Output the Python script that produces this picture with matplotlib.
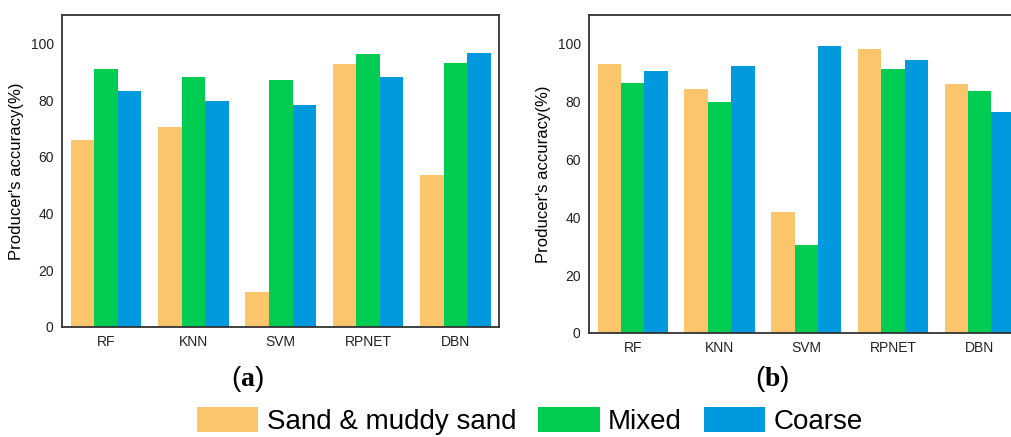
import numpy as np
import matplotlib.pyplot as plt
from matplotlib.patches import Patch

plt.rcParams['font.family'] = ['Liberation Sans', 'DejaVu Sans']
plt.rcParams['mathtext.fontset'] = 'custom'
plt.rcParams['mathtext.rm'] = 'Liberation Serif'
plt.rcParams['mathtext.bf'] = 'Liberation Serif:bold'

methods = ["RF", "KNN", "SVM", "RPNET", "DBN"]
classes = ["Sand & muddy sand", "Mixed", "Coarse"]
colors = ["#FAC56B", "#00CC52", "#0099DD"]

# producer's accuracy (%) per class, panel (a)
sand_a = [65.8, 70.4, 12.2, 92.7, 53.5]
mixed_a = [91.1, 88.1, 87.0, 96.4, 93.0]
coarse_a = [83.1, 79.6, 78.1, 88.0, 96.6]

# panel (b)
sand_b = [93.0, 84.5, 41.8, 98.1, 86.3]
mixed_b = [86.6, 79.9, 30.4, 91.2, 83.8]
coarse_b = [90.7, 92.3, 99.3, 94.5, 76.6]

W, H = 1011, 437
fig = plt.figure(figsize=(W / 100, H / 100), dpi=100)


def draw_panel(rect, series, tag, tag_x):
    ax = fig.add_axes(rect)
    x = np.arange(len(methods))
    bw = 0.27
    for i, (vals, c) in enumerate(zip(series, colors)):
        ax.bar(x + (i - 1) * bw, vals, width=bw, color=c, linewidth=0)
    ax.set_xlim(-0.505, 4.5)
    ax.set_ylim(0, 110)
    ax.set_yticks(range(0, 101, 20))
    ax.set_xticks(x)
    ax.set_xticklabels(methods)
    ax.tick_params(length=0, labelsize=10, colors="#222222", pad=6)
    ax.set_ylabel("Producer's accuracy(%)", fontsize=12, labelpad=5)
    for s in ax.spines.values():
        s.set_color("#333333")
        s.set_linewidth(1.3)
    fig.text(tag_x / W, 1 - 379 / H, r"($\mathbf{" + tag + r"}$)",
             ha="center", va="center", fontsize=20)
    return ax


draw_panel([62 / W, 1 - 327 / H, 437 / W, 312 / H],
           [sand_a, mixed_a, coarse_a], "a", 247)
draw_panel([589 / W, 1 - 333 / H, 434 / W, 318 / H],
           [sand_b, mixed_b, coarse_b], "b", 772)

handles = [Patch(facecolor=c, edgecolor="none") for c in colors]
fig.legend(handles, classes, loc="center", ncol=3, frameon=False,
           bbox_to_anchor=(530 / W, 1 - 421 / H), fontsize=20,
           handlelength=2.2, handleheight=1.0, handletextpad=0.3,
           columnspacing=0.8, borderpad=0, borderaxespad=0)

fig.savefig("out.png", dpi=100, facecolor="white")
